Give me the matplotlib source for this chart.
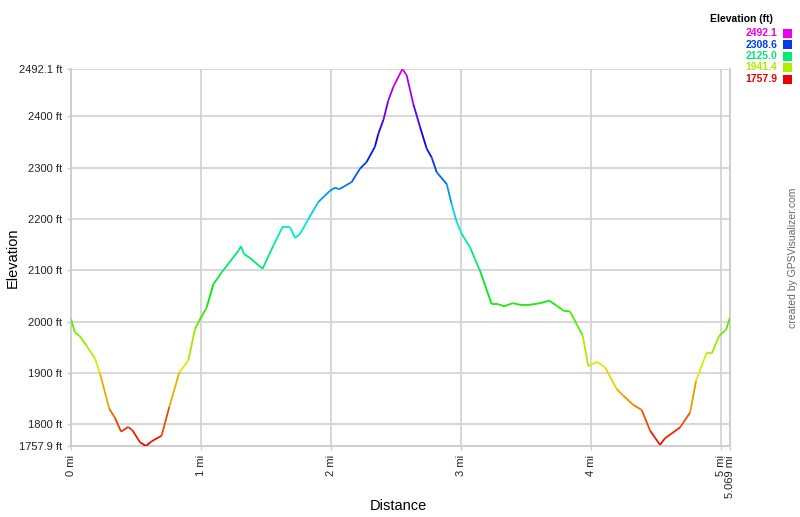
import matplotlib
matplotlib.use("Agg")
import matplotlib.pyplot as plt
import numpy as np
from matplotlib.collections import LineCollection
from matplotlib.colors import hsv_to_rgb

plt.rcParams['font.family'] = ['Liberation Sans', 'DejaVu Sans']

# track profile (miles, feet)
dist = [0.0, 0.03, 0.064, 0.12, 0.185, 0.223, 0.295, 0.338, 0.385, 0.441, 0.474,
        0.531, 0.577, 0.62, 0.697, 0.756, 0.833, 0.903, 0.954, 0.987, 1.044,
        1.095, 1.159, 1.287, 1.308, 1.33, 1.377, 1.474, 1.556, 1.626, 1.685,
        1.723, 1.762, 1.826, 1.902, 1.992, 2.031, 2.064, 2.159, 2.223, 2.274,
        2.338, 2.364, 2.403, 2.441, 2.479, 2.549, 2.582, 2.633, 2.685, 2.736,
        2.774, 2.813, 2.89, 2.928, 2.967, 3.005, 3.069, 3.146, 3.236, 3.287,
        3.331, 3.397, 3.454, 3.531, 3.608, 3.679, 3.736, 3.792, 3.838, 3.936,
        3.979, 4.044, 4.108, 4.197, 4.248, 4.325, 4.39, 4.454, 4.531, 4.569,
        4.685, 4.762, 4.808, 4.89, 4.928, 4.987, 5.038, 5.069]
elev = [2005, 1979, 1973, 1953, 1928, 1899, 1830, 1813, 1786, 1795, 1788,
        1765, 1757.9, 1767, 1778, 1834, 1901, 1925, 1986, 2002, 2028,
        2073, 2096, 2138, 2147, 2132, 2124, 2103, 2148, 2184, 2184,
        2163, 2171, 2200, 2233, 2255, 2261, 2258, 2272, 2298, 2311,
        2341, 2366, 2393, 2431, 2457, 2492.1, 2480, 2424, 2379, 2337,
        2320, 2291, 2268, 2229, 2194, 2171, 2145, 2099, 2034, 2034,
        2030, 2036, 2033, 2033, 2036, 2041, 2031, 2021, 2020, 1973,
        1913, 1922, 1911, 1869, 1856, 1838, 1828, 1788, 1760, 1773,
        1794, 1823, 1885, 1940, 1938, 1973, 1984, 2008]

e_min, e_max = 1757.9, 2492.1
legend_vals = [2492.1, 2308.6, 2125.0, 1941.4, 1757.9]
ytick_vals = [1757.9, 1800, 1900, 2000, 2100, 2200, 2300, 2400, 2492.1]
ytick_labels = ["1757.9 ft", "1800 ft", "1900 ft", "2000 ft", "2100 ft",
                "2200 ft", "2300 ft", "2400 ft", "2492.1 ft"]
xtick_vals = [0, 1, 2, 3, 4, 5, 5.069]
xtick_labels = ["0 mi", "1 mi", "2 mi", "3 mi", "4 mi", "5 mi", "5.069 mi"]


def elev_color(e):
    t = (e - e_min) / (e_max - e_min)
    return hsv_to_rgb([t * 300 / 360, 1.0, 0.92])


fig = plt.figure(figsize=(8, 5.17), dpi=100)
ax = fig.add_axes([71 / 800, 1 - 446 / 517, 659 / 800, 377 / 517])

x = np.array(dist)
y = np.array(elev)
pts = np.column_stack([x, y]).reshape(-1, 1, 2)
segs = np.concatenate([pts[:-1], pts[1:]], axis=1)
cols = [elev_color((a + b) / 2) for a, b in zip(y[:-1], y[1:])]
ax.add_collection(LineCollection(segs, colors=cols, linewidths=1.3, zorder=3))

ax.set_xlim(0, 5.069)
ax.set_ylim(e_min, e_max)
ax.set_yticks(ytick_vals)
ax.set_yticklabels(ytick_labels)
ax.set_xticks(xtick_vals)
ax.set_xticklabels(xtick_labels, rotation=90, va="top")
ax.tick_params(axis="both", labelsize=8, colors="#cccccc", labelcolor="#222222",
               length=3, width=1)
ax.grid(True, color="#d4d4d4", linewidth=1.3, zorder=0)
for s in ax.spines.values():
    s.set_color("#cccccc")
    s.set_linewidth(1.3)
ax.spines["top"].set_visible(False)

fig.text(398 / 800, 1 - 506 / 517, "Distance", ha="center", va="center", fontsize=10.5)
fig.text(13 / 800, 1 - 258 / 517, "Elevation", ha="center", va="center",
         rotation=90, fontsize=10.5)
fig.text(793 / 800, 1 - 258 / 517, "created by GPSVisualizer.com", ha="center",
         va="center", rotation=90, fontsize=7.5, color="#666666")

# legend
fig.text(741 / 800, 1 - 19 / 517, "Elevation (ft)", ha="center", va="center",
         fontsize=7.5, fontweight="bold")
for i, v in enumerate(legend_vals):
    yy = 1 - (33 + i * 11.5) / 517
    c = elev_color(v)
    fig.text(777 / 800, yy, f"{v:.1f}", ha="right", va="center", fontsize=7.5,
             fontweight="bold", color=c)
    fig.patches.append(plt.Rectangle((783 / 800, yy - 4.5 / 517), 9 / 800, 9 / 517,
                                     transform=fig.transFigure, facecolor=c,
                                     edgecolor="none"))

fig.savefig("out.png", dpi=100)
